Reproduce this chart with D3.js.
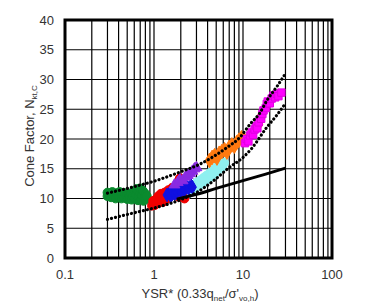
<!DOCTYPE html>
<html><head><meta charset="utf-8">
<script src="https://cdn.jsdelivr.net/npm/d3@7"></script>
<style>body{margin:0;background:#fff}svg{display:block}</style>
</head><body>
<script>
const yTicks = [0,5,10,15,20,25,30,35,40];
const xTicks = [0.1,1,10,100];
const upperBound = [[0.3,10.9],[0.6,12.0],[1,12.9],[2,14.5],[3.2,15.7],[4.6,17.0],[6.5,18.5],[9.25,20.3],[12,22.5],[15.5,24.4],[18.6,26.5],[24,28.8],[30,31.0]];
const lowerBound = [[0.3,6.5],[0.6,7.6],[1,8.4],[2,9.8],[3,11.0],[4.5,12.8],[7,15.2],[10,16.9],[12.5,18.4],[18.6,22.0],[24,24.0],[30,26.0]];
const solidLine = [[1.8,9.9],[3,10.7],[5,11.7],[10,13.0],[18,14.1],[30,15.1]];
const green = [[0.30,10.4],[0.30,11.0],[0.32,10.7],[0.33,10.2],[0.34,11.1],[0.36,10.5],[0.37,10.0],[0.38,10.9],[0.40,10.4],[0.41,11.1],[0.43,10.0],[0.44,10.6],[0.46,10.2],[0.47,10.9],[0.49,10.5],[0.50,9.9],[0.52,10.7],[0.53,10.2],[0.55,10.9],[0.56,9.8],[0.58,10.4],[0.60,11.2],[0.61,10.0],[0.63,10.6],[0.64,11.6],[0.66,9.7],[0.67,10.3],[0.69,11.0],[0.70,11.7],[0.72,9.9],[0.73,10.5],[0.75,11.3],[0.76,9.6],[0.78,10.2],[0.80,10.8],[0.81,9.8],[0.83,10.4]];
const red = [[0.95,8.8],[0.98,9.6],[1.02,8.9],[1.06,9.9],[1.1,9.3],[1.12,10.4],[1.18,9.7],[1.2,10.8],[1.25,9.4],[1.28,10.2],[1.32,11.0],[1.38,9.9],[1.4,10.6],[1.45,11.4],[1.5,10.3],[1.55,11.1],[1.6,11.8],[1.65,10.7],[1.7,11.5],[1.78,12.1],[1.85,11.0],[1.9,12.6],[1.95,13.4],[2.0,11.8],[2.1,12.4],[1.9,10.3],[2.2,10.0]];
const blue = [[1.4,10.6],[1.5,10.9],[1.55,10.4],[1.6,11.2],[1.7,10.8],[1.75,11.5],[1.8,11.0],[1.9,11.6],[2.0,11.2],[2.1,11.9],[2.2,11.4],[2.3,12.1],[2.45,11.7],[2.6,12.2],[2.7,11.9]];
const purple = [[1.7,12.3],[1.85,12.7],[1.95,13.2],[2.1,13.0],[2.25,13.6],[2.4,13.9],[2.55,14.2],[2.7,14.6],[2.85,15.0],[3.0,15.2]];
const cyan = [[2.3,11.2],[2.4,10.8],[2.5,11.8],[2.6,11.3],[2.75,12.2],[2.85,11.7],[3.0,12.6],[3.1,12.1],[3.3,13.0],[3.4,12.5],[3.6,13.4],[3.75,12.9],[3.9,13.8],[4.1,13.4],[4.3,14.3],[4.5,13.9],[4.7,14.8],[4.9,14.4],[5.1,15.3],[5.3,14.9],[5.6,15.7],[5.8,15.3],[6.1,16.0]];
const orange = [[4.2,16.4],[4.5,16.9],[4.8,17.2],[5.1,16.8],[5.4,17.6],[5.8,17.9],[6.2,18.2],[6.6,17.8],[7.0,18.6],[7.5,19.0],[8.0,18.8],[8.5,19.4],[9.0,19.8],[9.6,20.2],[10.2,20.0],[15.0,22.5],[15.5,23.3],[16.0,23.8]];
const magenta = [[10.5,19.3],[11,20.0],[11.5,19.6],[12,20.6],[12.5,21.1],[13,20.7],[13.5,21.6],[14,22.2],[14.5,21.8],[15,22.8],[16,23.4],[16.5,24.2],[17,24.8],[18,25.2],[18.5,25.9],[19,26.3],[20,26.0],[21,26.8],[22,27.3],[23,27.0],[24,27.6],[25,27.2],[27,27.8]];

const W=375,H=305, L=65,R=332,T=20,B=258;
const svg = d3.select("body").append("svg").attr("width",W).attr("height",H)
  .style("font-family","'Liberation Sans', Arial, sans-serif");
const x = d3.scaleLog().domain([0.1,100]).range([L,R]);
const y = d3.scaleLinear().domain([0,40]).range([B,T]);

// grid
const minor = [];
[0.1,1,10].forEach(d=>{for(let k=1;k<10;k++) minor.push(d*k);});
minor.push(100);
svg.append("g").selectAll("line").data(minor).join("line")
  .attr("x1",d=>x(d)).attr("x2",d=>x(d)).attr("y1",T).attr("y2",B)
  .attr("stroke","#000").attr("stroke-width",1.2);
svg.append("g").selectAll("line").data(yTicks).join("line")
  .attr("x1",L).attr("x2",R).attr("y1",d=>y(d)).attr("y2",d=>y(d))
  .attr("stroke","#000").attr("stroke-width",1.2);

// scatter
function pts(data, type, color, size, stroke){
  svg.append("g").selectAll("path").data(data).join("path")
    .attr("transform",d=>`translate(${x(d[0])},${y(d[1])})`)
    .attr("d",d3.symbol().type(type).size(size))
    .attr("fill",color).attr("stroke",stroke||color).attr("stroke-width",1);
}
pts(green,d3.symbolCircle,"#0a8a2e",60);
pts(cyan,d3.symbolCircle,"#8ff0f0",70);
pts(red,d3.symbolCircle,"#f00000",62);
pts(blue,d3.symbolDiamond,"#1010e0",55);
pts(purple,d3.symbolTriangle,"#8a2be2",50);
pts(orange,d3.symbolDiamond,"#ff7a10",62);
pts(magenta,d3.symbolSquare,"#ff00ff",55,"#e000e0");

const line = d3.line().x(d=>x(d[0])).y(d=>y(d[1])).curve(d3.curveMonotoneX);
[upperBound, lowerBound].forEach(b=>{
  svg.append("path").attr("d",line(b)).attr("fill","none").attr("stroke","#000")
    .attr("stroke-width",3.2).attr("stroke-linecap","round").attr("stroke-dasharray","0.1,4");
});
svg.append("path").attr("d",line(solidLine)).attr("fill","none").attr("stroke","#000").attr("stroke-width",3);

// frame
svg.append("rect").attr("x",L).attr("y",T).attr("width",R-L).attr("height",B-T)
  .attr("fill","none").attr("stroke","#000").attr("stroke-width",3);

// tick labels
svg.append("g").selectAll("text").data(yTicks).join("text")
  .attr("x",54).attr("y",d=>y(d)).attr("dy","0.35em").attr("text-anchor","end")
  .attr("font-size",13).attr("fill","#333").text(d=>d);
svg.append("g").selectAll("text").data(xTicks).join("text")
  .attr("x",d=>x(d)).attr("y",279).attr("text-anchor","middle")
  .attr("font-size",13).attr("fill","#333").text(d=>d);

// axis titles
const xt = svg.append("text").attr("x",200).attr("y",298).attr("text-anchor","middle")
  .attr("font-size",13).attr("fill","#333");
xt.append("tspan").text("YSR* (0.33q");
xt.append("tspan").attr("font-size",8).attr("dy",3).text("net");
xt.append("tspan").attr("dy",-3).text("/σ'");
xt.append("tspan").attr("font-size",8).attr("dy",3).text("vo,h");
xt.append("tspan").attr("dy",-3).text(")");
const yt = svg.append("text").attr("transform","translate(34,136) rotate(-90)")
  .attr("text-anchor","middle").attr("font-size",13).attr("fill","#333");
yt.append("tspan").text("Cone Factor, N");
yt.append("tspan").attr("font-size",8).attr("dy",3).text("kt,C");
</script>
</body></html>
